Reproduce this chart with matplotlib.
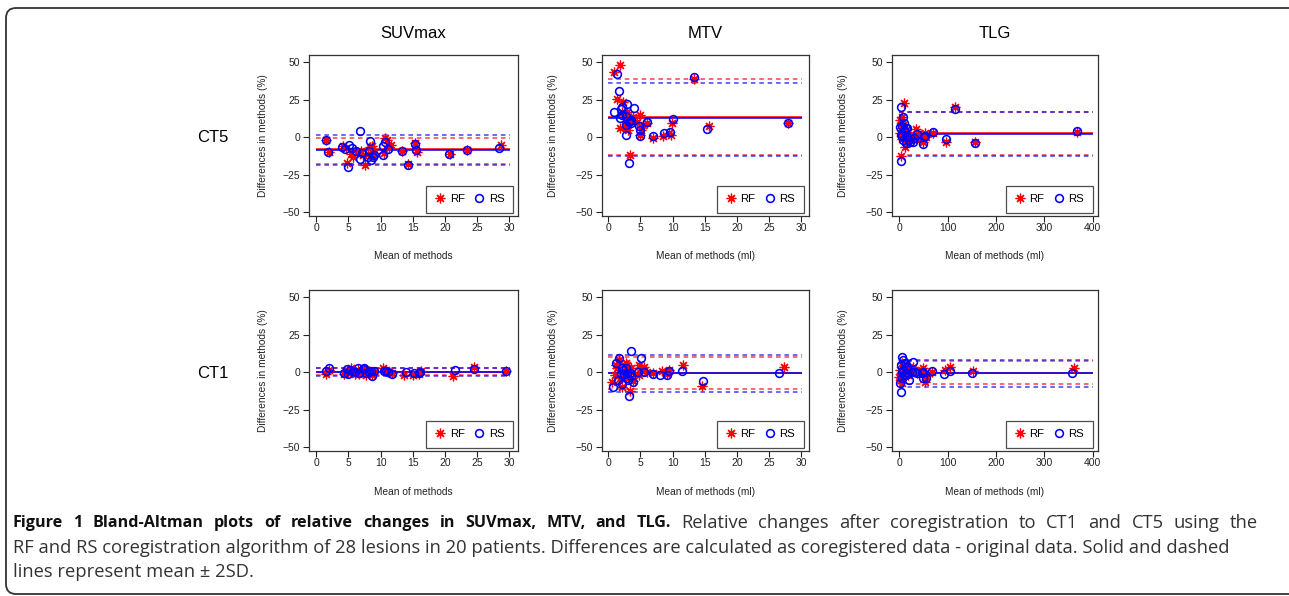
import matplotlib
matplotlib.use("Agg")
import matplotlib.pyplot as plt
from matplotlib.patches import FancyBboxPatch

# ---- data (x = mean of methods, y = difference %) ----
columns = ["SUVmax", "MTV", "TLG"]
rows = ["CT5", "CT1"]
xlabels = ["Mean of methods", "Mean of methods (ml)", "Mean of methods (ml)"]
xticks = [[0, 5, 10, 15, 20, 25, 30], [0, 5, 10, 15, 20, 25, 30], [0, 100, 200, 300, 400]]
yticks = [-50, -25, 0, 25, 50]

# CT5 SUVmax
suv5_rs_x = [1.45, 1.87, 4.0, 4.5, 5.1, 4.9, 5.6, 6.2, 6.8, 6.8, 7.1, 8.0, 8.2, 8.4, 8.5, 8.8, 9.0, 10.4, 10.4, 10.7, 11.2, 13.3, 14.2, 15.3, 15.5, 20.7, 23.4, 28.5]
suv5_rs_y = [-1.8, -10, -6.5, -7.8, -4.9, -19.6, -6.9, -8.9, 4.2, -14.7, -10.5, -12.9, -9.1, -2.2, -15.1, -12.9, -11.4, -5.8, -11.4, -3.1, -8, -8.9, -18.7, -4.5, -8.5, -11.1, -8.2, -6.9]
suv5_rf_x = [1.5, 1.9, 4.1, 4.6, 4.8, 5.4, 5.7, 6.3, 7.0, 7.2, 7.5, 8.1, 8.4, 8.6, 8.8, 9.0, 10.5, 10.7, 11.0, 11.3, 11.6, 13.4, 14.2, 15.4, 15.6, 20.8, 23.5, 28.7]
suv5_rf_y = [-1.5, -9.8, -5.6, -7.2, -16.9, -11.1, -12.9, -9.5, -9.0, -11.5, -18.5, -10.8, -6.2, -5.5, -12.0, -10.5, -10.5, -0.7, -1.5, -6.2, -5.0, -9.0, -17.4, -4.0, -9.5, -11.0, -8.5, -4.9]

# CT5 MTV
mtv5_rs_x = [0.88, 1.4, 1.66, 1.86, 1.97, 2.2, 2.2, 2.74, 2.9, 2.74, 2.74, 3.16, 3.26, 3.4, 3.6, 3.6, 4.0, 4.8, 5.0, 4.9, 6.05, 7.0, 8.7, 9.6, 10.0, 13.3, 15.4, 27.9]
mtv5_rs_y = [16.9, 42.5, 30.7, 13.1, 18.9, 20.5, 14.9, 14.3, 22.5, 8.0, 1.8, 10.5, -17.1, 10.9, 9.8, 11.4, 19.8, 7.6, 4.9, 0.9, 10.5, 0.9, 2.7, 3.8, 12.0, 40.5, 5.6, 9.4]
mtv5_rf_x = [0.93, 1.8, 1.3, 1.8, 2.3, 2.95, 3.0, 3.4, 3.8, 5.0, 5.4, 6.0, 7.0, 8.5, 9.9, 13.3, 15.6, 27.9, 2.7, 2.07, 2.6, 3.4, 4.4, 4.9, 5.07, 9.5, 9.8, 3.6]
mtv5_rf_y = [43.7, 48.1, 25.8, 6.0, 23.8, 17.1, 4.9, -11.8, 13.8, 14.9, 8.2, 9.4, -0.2, 0.9, 9.4, 38.8, 7.6, 9.4, 10.5, 17.1, 7.1, 11.1, 10.5, 1.6, 4.9, 3.1, 1.6, 12.7]

# CT5 TLG
tlg5_rs_x = [3.4, 2.7, 3.4, 4.8, 6.9, 8.2, 8.9, 13.7, 13.7, 15, 16.5, 22, 27.5, 31, 35.7, 48.8, 51.5, 53.6, 70, 96, 115.5, 156.7, 367, 11.7, 6.2, 9.6, 1.4, 19]
tlg5_rs_y = [20.5, 1.6, -15.8, 7.6, -1.8, 13.6, 4.9, 6.0, -4, 6, 0.4, -3.1, -3.1, -0.7, 2.2, -4.2, 0, 1.1, 3.8, -1.3, 19.1, -3.6, 4.2, 3.8, 0.9, 9.4, 6.7, -1.5]
tlg5_rf_x = [2, 10.3, 3.4, 4.8, 11.7, 18.6, 22, 34.4, 52.9, 49.5, 70, 96, 115.5, 157.4, 367, 1.5, 6.5, 8.5, 13.5, 15.5, 25, 30, 45, 5.5, 9.0, 17, 40, 55]
tlg5_rf_y = [11.4, 22.7, -12.5, 13.8, -6.2, 1.6, 0, 5.6, 2.7, -2.9, 3.1, -3.3, 20, -2.9, 3.6, 3.0, -1.0, 8.0, 5.0, -3.0, -2.0, 1.0, 1.5, 6.5, 2.0, -1.0, -1.5, 0.5]

# CT1 SUVmax
suv1_rs_x = [1.45, 2.0, 4.3, 4.7, 5.0, 5.3, 6.0, 6.5, 7.3, 7.4, 7.8, 8.5, 8.6, 8.9, 10.5, 11.2, 11.7, 13.9, 15.2, 16.2, 21.6, 24.5, 29.6, 5.7, 6.7, 8.2, 10.8, 16.0]
suv1_rs_y = [1.1, 2.7, -0.7, 2.2, -1.1, 1.6, 0, 2.9, 2.2, 2.9, -0.7, 0.9, -2.2, 1.1, 0.7, 0.4, -1.3, 0, -0.7, 0, 1.6, 2.4, 0.9, 0.9, -0.4, 0.4, 0.9, -0.7]
suv1_rf_x = [1.45, 2.0, 4.3, 4.7, 5.0, 5.4, 6.0, 6.5, 7.3, 7.4, 7.8, 8.5, 8.6, 8.9, 10.4, 11.2, 11.7, 13.6, 15.0, 16.3, 21.2, 24.5, 29.6, 5.7, 6.7, 8.2, 10.8, 16.0]
suv1_rf_y = [-1.3, 1.5, -1.0, 1.0, -0.5, 2.7, -0.8, 1.5, 1.0, 2.0, -1.8, 0.0, -1.5, 0.5, 2.7, 0.5, -0.5, -1.8, -1.8, 0.9, -2.2, 3.6, 1.3, 0.0, -1.0, 0.8, 1.8, -1.2]

# CT1 MTV
mtv1_rs_x = [0.78, 1.19, 1.55, 1.66, 1.9, 2.07, 2.2, 2.4, 2.74, 2.85, 3.05, 3.2, 3.4, 3.6, 3.9, 4.6, 5.07, 5.6, 7.0, 8.1, 9.2, 9.4, 11.5, 14.8, 26.6, 2.3, 3.5, 2.95]
mtv1_rs_y = [-9.8, 6.5, -5.1, 9.4, -1.3, -7.6, 3.3, -1.3, 2.9, -0.7, -5.1, -16.0, -0.7, 14.5, -6.7, 0, 9.8, 0.4, -0.9, -1.6, -1.6, 0.9, 0.9, -5.6, -0.7, 1.6, -2.2, -4.0]
mtv1_rf_x = [0.62, 1.0, 1.4, 1.8, 2.74, 2.95, 3.36, 3.6, 4.7, 5.5, 4.7, 7.0, 8.3, 9.5, 11.7, 14.6, 27.3, 2.07, 1.2, 1.6, 2.2, 2.5, 3.1, 3.8, 4.2, 5.2, 9.2, 6.0]
mtv1_rf_y = [-6.2, -1.8, 2.7, -4.0, 6.0, 4.9, -12.5, 2.7, 4.9, 3.8, -1.8, -0.7, 0.9, 1.6, 5.3, -8.9, 3.8, -9.6, 5.0, 8.0, 1.0, -2.0, -3.5, -5.5, -1.0, 1.5, -0.8, 0.5]

# CT1 TLG
tlg1_rs_x = [3.4, 3.4, 4.8, 2.1, 6.2, 9.6, 11.7, 13.7, 15, 20, 28.9, 32, 35.7, 48, 49.5, 54.3, 68, 92.8, 104.5, 150.5, 356.7, 6.9, 8.2, 13, 16.5, 25.4, 4.8, 46]
tlg1_rs_y = [-12.9, 4.9, 10.5, -7.3, -4, -1.8, 6.0, 2.7, -0.7, -5.1, 6.7, 0.4, -0.7, 0.4, -3.6, -4, 0.9, -0.9, 0.9, -0.7, -0.2, 1.6, 8.2, -1.8, 3.8, 0, 0, -0.7]
tlg1_rf_x = [0, 1.4, 4.8, 9.6, 22, 28.9, 48, 52.9, 94, 105.6, 152.6, 360.8, 3.0, 6.0, 12, 15, 18, 32, 36, 45, 68, 2.5, 7.5, 10.5, 26, 40, 55, 5.5]
tlg1_rf_y = [-2.9, 1.6, -7.3, 4.9, 3.1, 3.8, 2.7, -6.7, 1.6, 3.8, 0.9, 3.1, -5.0, -1.0, 5.0, 1.0, -2.0, 1.5, -0.5, 1.0, 0.5, -4.0, 2.0, -1.0, 2.5, 0.0, -2.5, 6.0]

# mean, mean+2SD, mean-2SD
rf_lines = [[(-8.0, -0.7, -17.4), (13.6, 39.2, -12.0), (2.9, 17.3, -11.8)],
            [(0.3, 2.9, -2.0), (-0.2, 10.3, -10.9), (-0.2, 7.8, -8.0)]]
rs_lines = [[(-8.6, 1.6, -18.4), (12.7, 36.5, -12.3), (2.4, 17.1, -12.2)],
            [(0.5, 3.3, -2.4), (-0.7, 11.6, -12.9), (-0.4, 8.2, -9.6)]]
line_end = [30.2, 30.2, 400]
xlims = [(-1.15, 31.4), (-1.03, 31.2), (-15.8, 410.3)]

rf_pts = [[(suv5_rf_x, suv5_rf_y), (mtv5_rf_x, mtv5_rf_y), (tlg5_rf_x, tlg5_rf_y)],
          [(suv1_rf_x, suv1_rf_y), (mtv1_rf_x, mtv1_rf_y), (tlg1_rf_x, tlg1_rf_y)]]
rs_pts = [[(suv5_rs_x, suv5_rs_y), (mtv5_rs_x, mtv5_rs_y), (tlg5_rs_x, tlg5_rs_y)],
          [(suv1_rs_x, suv1_rs_y), (mtv1_rs_x, mtv1_rs_y), (tlg1_rs_x, tlg1_rs_y)]]

caption_bold = "Figure 1 Bland-Altman plots of relative changes in SUVmax, MTV, and TLG."
caption_lines = ["Relative changes after coregistration to CT1 and CT5 using the",
                 "RF and RS coregistration algorithm of 28 lesions in 20 patients. Differences are calculated as coregistered data - original data. Solid and dashed",
                 "lines represent mean \u00b1 2SD."]

W, H = 1289, 596
plt.rcParams['font.family'] = ['Liberation Sans', 'DejaVu Sans']
fig = plt.figure(figsize=(W / 100, H / 100), dpi=100)

col_left = [309, 601.7, 891.7]
col_width = [209, 207, 206]
ylabel_pad = [10, 12, 12]
row_top = [55, 290]
xlabel_pad = [13, 14]
box_h = 161
RED = '#ff0000'
BLUE = '#0000ff'
star = (8, 2, 0)

for r in range(2):
    for c in range(3):
        ax = fig.add_axes([col_left[c] / W, 1 - (row_top[r] + box_h) / H, col_width[c] / W, box_h / H])
        x0, x1 = 0, line_end[c]
        for vals, col in ((rf_lines[r][c], RED), (rs_lines[r][c], BLUE)):
            m, up, lo = vals
            ax.plot([x0, x1], [m, m], color=col, lw=1.1, solid_capstyle='butt')
            ax.plot([x0, x1], [up, up], color=col, lw=1.1, ls=(0, (3, 2.5)), alpha=0.75)
            ax.plot([x0, x1], [lo, lo], color=col, lw=1.1, ls=(0, (3, 2.5)), alpha=0.75)
        fx, fy = rf_pts[r][c]
        sx, sy = rs_pts[r][c]
        ax.plot(fx, fy, ls='none', marker=star, ms=7, mew=0.9, color=RED, label='RF')
        ax.plot(sx, sy, ls='none', marker='o', ms=5.6, mew=1.15, mfc='none', mec=BLUE, label='RS')
        ax.set_xlim(*xlims[c])
        ax.set_ylim(-52.4, 55)
        ax.set_xticks(xticks[c])
        ax.set_yticks(yticks)
        ax.tick_params(direction='out', length=4, width=0.8, labelsize=7.5, colors='#222222')
        ax.tick_params(axis='x', pad=1.0)
        ax.tick_params(axis='y', pad=2.5)
        for s in ax.spines.values():
            s.set_linewidth(0.9)
            s.set_color('#333333')
        ax.set_xlabel(xlabels[c], fontsize=7.3, labelpad=xlabel_pad[r], color='#222222')
        ax.set_ylabel('Differences in methods (%)', fontsize=7.3, labelpad=ylabel_pad[c], color='#222222')
        leg = ax.legend(loc='lower right', bbox_to_anchor=(1 - 5 / col_width[c], 3 / box_h), borderaxespad=0,
                        ncol=2, fontsize=8.2, frameon=True, fancybox=False, handlelength=0.9,
                        handletextpad=0.4, columnspacing=0.8, borderpad=0.75)
        leg.get_frame().set_edgecolor('#222222')
        leg.get_frame().set_linewidth(0.9)
        if r == 0:
            ax.set_title(columns[c], fontsize=12, pad=12)
        if c == 0:
            fig.text(213 / W, 1 - (row_top[r] + 83) / H, rows[r], fontsize=12, ha='center', va='center')

# rounded frame around the figure
fig.add_artist(FancyBboxPatch((6, 2), 1300, 586, boxstyle="round,pad=0,rounding_size=10",
                              transform=None, fill=False, edgecolor='#333333', linewidth=1.3))

# caption (first line justified like the journal layout)
cap_font = ['Open Sans', 'DejaVu Sans']
BOLD_SIZE, TEXT_SIZE = 11.6, 13.2
renderer = fig.canvas.get_renderer()
words = [(w, True) for w in caption_bold.split()] + [(w, False) for w in caption_lines[0].split()]
widths = []
for w, b in words:
    t = fig.text(0, 0, w, fontsize=BOLD_SIZE if b else TEXT_SIZE, fontweight='bold' if b else 'normal', family=cap_font)
    widths.append(t.get_window_extent(renderer).width)
    t.remove()
gap = (1258 - 13 - sum(widths)) / (len(words) - 1)
xpos = 13
for (w, b), wd in zip(words, widths):
    fig.text(xpos / W, 1 - 523 / H, w, fontsize=BOLD_SIZE if b else TEXT_SIZE, fontweight='bold' if b else 'normal',
             family=cap_font, va='center', color='#111111' if b else '#333333')
    xpos += wd + gap
fig.text(13 / W, 1 - 548 / H, caption_lines[1], fontsize=TEXT_SIZE, family=cap_font, va='center', color='#333333')
fig.text(13 / W, 1 - 572 / H, caption_lines[2], fontsize=TEXT_SIZE, family=cap_font, va='center', color='#333333')

fig.savefig('out.png', dpi=100)
